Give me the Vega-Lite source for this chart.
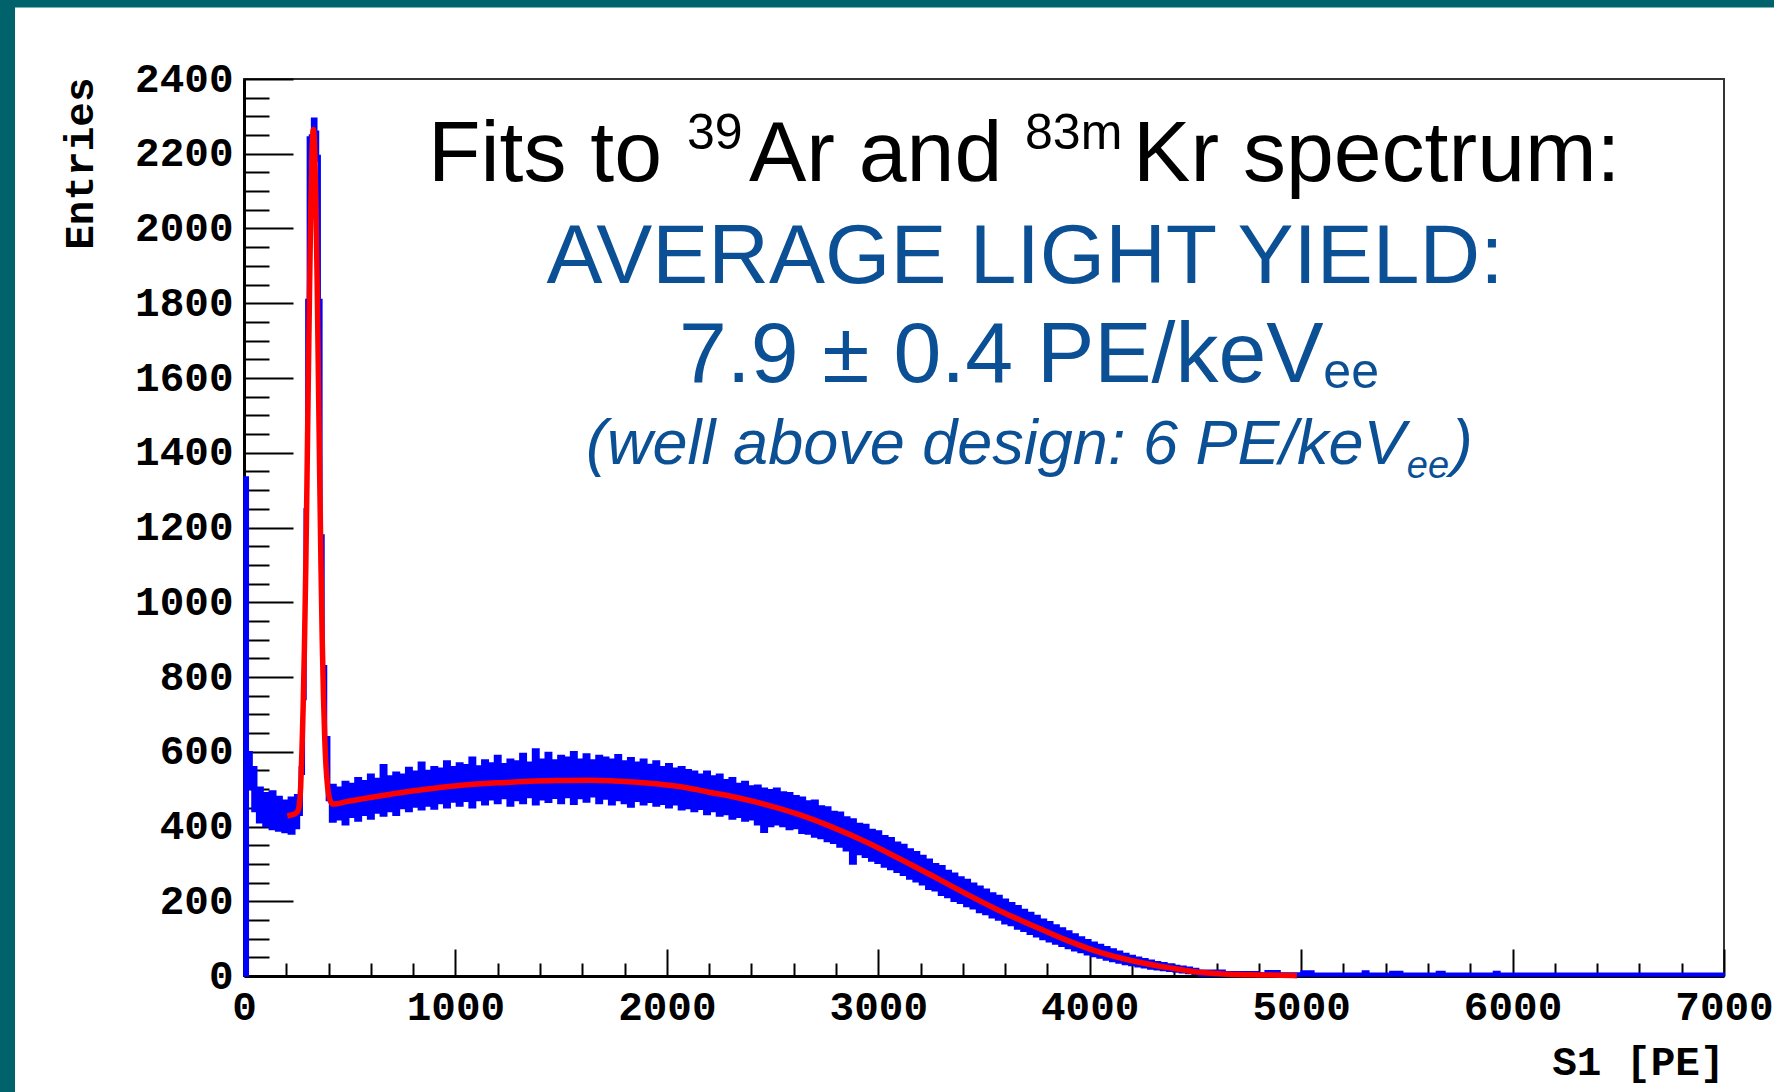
{
"$schema":"https://vega.github.io/schema/vega-lite/v6.json",
"width":1480,"height":897,
"autosize":{"type":"none"},
"padding":{"left":244,"top":79,"right":50,"bottom":116},
"background":"white",
"config":{
 "view":{"stroke":"#333333","strokeWidth":2},
 "axis":{"grid":false,"domainColor":"black","domainWidth":3,"tickColor":"black","tickWidth":2,"labelFont":"Liberation Mono","labelFontWeight":"bold","labelFontSize":41,"labelColor":"black","titleFont":"Liberation Mono","titleFontWeight":"bold","titleFontSize":41,"titleColor":"black","labelFlush":false,"labelOverlap":false,"zindex":1}
},
"datasets":{
 "band":[
  {"s":0,"e":20,"lo":0,"hi":1335},
  {"s":20,"e":38,"lo":500,"hi":600},
  {"s":38,"e":60,"lo":440,"hi":560},
  {"s":60,"e":90,"lo":410,"hi":505},
  {"s":90,"e":120,"lo":400,"hi":490},
  {"s":120,"e":150,"lo":392,"hi":495},
  {"s":150,"e":180,"lo":388,"hi":480},
  {"s":180,"e":210,"lo":384,"hi":470},
  {"s":210,"e":240,"lo":380,"hi":478},
  {"s":240,"e":262,"lo":395,"hi":485},
  {"s":262,"e":275,"lo":430,"hi":560},
  {"s":275,"e":285,"lo":540,"hi":760},
  {"s":285,"e":293,"lo":740,"hi":1250},
  {"s":293,"e":300,"lo":1240,"hi":1810},
  {"s":300,"e":310,"lo":1800,"hi":2245},
  {"s":310,"e":320,"lo":2200,"hi":2250},
  {"s":320,"e":344,"lo":2240,"hi":2295},
  {"s":344,"e":352,"lo":2180,"hi":2260},
  {"s":352,"e":360,"lo":1800,"hi":2195},
  {"s":360,"e":368,"lo":1180,"hi":1810},
  {"s":368,"e":378,"lo":820,"hi":1180},
  {"s":378,"e":390,"lo":630,"hi":830},
  {"s":390,"e":405,"lo":470,"hi":640},
  {"s":405,"e":435,"lo":412,"hi":512},
  {"s":435,"e":465,"lo":418,"hi":505},
  {"s":465,"e":495,"lo":405,"hi":520},
  {"s":495,"e":525,"lo":425,"hi":515},
  {"s":525,"e":555,"lo":415,"hi":530},
  {"s":555,"e":585,"lo":430,"hi":522},
  {"s":585,"e":615,"lo":420,"hi":540},
  {"s":615,"e":645,"lo":436,"hi":528},
  {"s":645,"e":675,"lo":428,"hi":565},
  {"s":675,"e":705,"lo":440,"hi":535},
  {"s":705,"e":735,"lo":430,"hi":545},
  {"s":735,"e":765,"lo":448,"hi":540},
  {"s":765,"e":795,"lo":440,"hi":558},
  {"s":795,"e":825,"lo":452,"hi":548},
  {"s":825,"e":855,"lo":445,"hi":572},
  {"s":855,"e":885,"lo":455,"hi":550},
  {"s":885,"e":915,"lo":447,"hi":560},
  {"s":915,"e":945,"lo":462,"hi":556},
  {"s":945,"e":975,"lo":450,"hi":575},
  {"s":975,"e":1005,"lo":466,"hi":560},
  {"s":1005,"e":1035,"lo":455,"hi":570},
  {"s":1035,"e":1065,"lo":468,"hi":565},
  {"s":1065,"e":1095,"lo":450,"hi":585},
  {"s":1095,"e":1125,"lo":470,"hi":562},
  {"s":1125,"e":1155,"lo":458,"hi":578},
  {"s":1155,"e":1185,"lo":472,"hi":570},
  {"s":1185,"e":1215,"lo":462,"hi":590},
  {"s":1215,"e":1245,"lo":475,"hi":568},
  {"s":1245,"e":1275,"lo":455,"hi":580},
  {"s":1275,"e":1305,"lo":470,"hi":575},
  {"s":1305,"e":1335,"lo":462,"hi":595},
  {"s":1335,"e":1365,"lo":478,"hi":572},
  {"s":1365,"e":1395,"lo":458,"hi":607},
  {"s":1395,"e":1425,"lo":472,"hi":580},
  {"s":1425,"e":1455,"lo":465,"hi":598},
  {"s":1455,"e":1485,"lo":476,"hi":578},
  {"s":1485,"e":1515,"lo":462,"hi":590},
  {"s":1515,"e":1545,"lo":478,"hi":585},
  {"s":1545,"e":1575,"lo":460,"hi":600},
  {"s":1575,"e":1605,"lo":475,"hi":580},
  {"s":1605,"e":1635,"lo":466,"hi":594},
  {"s":1635,"e":1665,"lo":480,"hi":578},
  {"s":1665,"e":1695,"lo":462,"hi":590},
  {"s":1695,"e":1725,"lo":474,"hi":585},
  {"s":1725,"e":1755,"lo":458,"hi":580},
  {"s":1755,"e":1785,"lo":470,"hi":592},
  {"s":1785,"e":1815,"lo":462,"hi":575},
  {"s":1815,"e":1845,"lo":452,"hi":584},
  {"s":1845,"e":1875,"lo":468,"hi":572},
  {"s":1875,"e":1905,"lo":458,"hi":580},
  {"s":1905,"e":1935,"lo":465,"hi":566},
  {"s":1935,"e":1965,"lo":455,"hi":575},
  {"s":1965,"e":1995,"lo":460,"hi":560},
  {"s":1995,"e":2025,"lo":450,"hi":568},
  {"s":2025,"e":2055,"lo":458,"hi":556},
  {"s":2055,"e":2085,"lo":445,"hi":560},
  {"s":2085,"e":2115,"lo":448,"hi":552},
  {"s":2115,"e":2145,"lo":440,"hi":548},
  {"s":2145,"e":2175,"lo":446,"hi":540},
  {"s":2175,"e":2205,"lo":432,"hi":548},
  {"s":2205,"e":2235,"lo":440,"hi":535},
  {"s":2235,"e":2265,"lo":428,"hi":540},
  {"s":2265,"e":2295,"lo":432,"hi":525},
  {"s":2295,"e":2325,"lo":420,"hi":530},
  {"s":2325,"e":2355,"lo":425,"hi":515},
  {"s":2355,"e":2385,"lo":415,"hi":520},
  {"s":2385,"e":2415,"lo":418,"hi":508},
  {"s":2415,"e":2445,"lo":405,"hi":510},
  {"s":2445,"e":2475,"lo":385,"hi":502},
  {"s":2475,"e":2505,"lo":400,"hi":498},
  {"s":2505,"e":2535,"lo":405,"hi":502},
  {"s":2535,"e":2565,"lo":400,"hi":492},
  {"s":2565,"e":2595,"lo":392,"hi":490},
  {"s":2595,"e":2625,"lo":395,"hi":482},
  {"s":2625,"e":2655,"lo":382,"hi":478},
  {"s":2655,"e":2685,"lo":380,"hi":468},
  {"s":2685,"e":2715,"lo":372,"hi":470},
  {"s":2715,"e":2745,"lo":368,"hi":455},
  {"s":2745,"e":2775,"lo":360,"hi":452},
  {"s":2775,"e":2805,"lo":355,"hi":440},
  {"s":2805,"e":2835,"lo":345,"hi":438},
  {"s":2835,"e":2865,"lo":335,"hi":425},
  {"s":2865,"e":2895,"lo":300,"hi":420},
  {"s":2895,"e":2925,"lo":325,"hi":408},
  {"s":2925,"e":2955,"lo":318,"hi":405},
  {"s":2955,"e":2985,"lo":308,"hi":392},
  {"s":2985,"e":3015,"lo":302,"hi":388},
  {"s":3015,"e":3045,"lo":292,"hi":375},
  {"s":3045,"e":3075,"lo":285,"hi":370},
  {"s":3075,"e":3105,"lo":278,"hi":358},
  {"s":3105,"e":3135,"lo":270,"hi":352},
  {"s":3135,"e":3165,"lo":260,"hi":340},
  {"s":3165,"e":3195,"lo":252,"hi":332},
  {"s":3195,"e":3225,"lo":244,"hi":322},
  {"s":3225,"e":3255,"lo":232,"hi":312},
  {"s":3255,"e":3285,"lo":228,"hi":300},
  {"s":3285,"e":3315,"lo":216,"hi":295},
  {"s":3315,"e":3345,"lo":210,"hi":282},
  {"s":3345,"e":3375,"lo":200,"hi":275},
  {"s":3375,"e":3405,"lo":195,"hi":265},
  {"s":3405,"e":3435,"lo":186,"hi":258},
  {"s":3435,"e":3465,"lo":180,"hi":248},
  {"s":3465,"e":3495,"lo":170,"hi":240},
  {"s":3495,"e":3525,"lo":165,"hi":232},
  {"s":3525,"e":3555,"lo":156,"hi":222},
  {"s":3555,"e":3585,"lo":150,"hi":215},
  {"s":3585,"e":3615,"lo":140,"hi":205},
  {"s":3615,"e":3645,"lo":135,"hi":196},
  {"s":3645,"e":3675,"lo":126,"hi":188},
  {"s":3675,"e":3705,"lo":120,"hi":178},
  {"s":3705,"e":3735,"lo":112,"hi":170},
  {"s":3735,"e":3765,"lo":105,"hi":162},
  {"s":3765,"e":3795,"lo":98,"hi":152},
  {"s":3795,"e":3825,"lo":92,"hi":145},
  {"s":3825,"e":3855,"lo":86,"hi":136},
  {"s":3855,"e":3885,"lo":80,"hi":128},
  {"s":3885,"e":3915,"lo":74,"hi":120},
  {"s":3915,"e":3945,"lo":68,"hi":112},
  {"s":3945,"e":3975,"lo":63,"hi":104},
  {"s":3975,"e":4005,"lo":57,"hi":97},
  {"s":4005,"e":4035,"lo":52,"hi":90},
  {"s":4035,"e":4065,"lo":48,"hi":84},
  {"s":4065,"e":4095,"lo":43,"hi":78},
  {"s":4095,"e":4125,"lo":39,"hi":72},
  {"s":4125,"e":4155,"lo":35,"hi":66},
  {"s":4155,"e":4185,"lo":31,"hi":60},
  {"s":4185,"e":4215,"lo":28,"hi":55},
  {"s":4215,"e":4245,"lo":25,"hi":50},
  {"s":4245,"e":4275,"lo":22,"hi":46},
  {"s":4275,"e":4305,"lo":19,"hi":42},
  {"s":4305,"e":4335,"lo":17,"hi":38},
  {"s":4335,"e":4365,"lo":15,"hi":35},
  {"s":4365,"e":4395,"lo":13,"hi":32},
  {"s":4395,"e":4425,"lo":11,"hi":28},
  {"s":4425,"e":4455,"lo":9,"hi":26},
  {"s":4455,"e":4485,"lo":7,"hi":23},
  {"s":4485,"e":4515,"lo":5,"hi":20},
  {"s":4515,"e":4640,"lo":0,"hi":15},
  {"s":4640,"e":4800,"lo":0,"hi":11},
  {"s":4800,"e":4830,"lo":0,"hi":8},
  {"s":4830,"e":4900,"lo":0,"hi":14},
  {"s":4900,"e":5000,"lo":0,"hi":8},
  {"s":5000,"e":5060,"lo":0,"hi":13},
  {"s":5060,"e":5290,"lo":0,"hi":7},
  {"s":5290,"e":5320,"lo":0,"hi":13},
  {"s":5320,"e":5420,"lo":0,"hi":7},
  {"s":5420,"e":5480,"lo":0,"hi":12},
  {"s":5480,"e":5640,"lo":0,"hi":7},
  {"s":5640,"e":5680,"lo":0,"hi":12},
  {"s":5680,"e":5910,"lo":0,"hi":7},
  {"s":5910,"e":5940,"lo":0,"hi":12},
  {"s":5940,"e":7000,"lo":0,"hi":7}
 ],
 "fit":[
  {"x":205,"y":428},{"x":225,"y":431},{"x":245,"y":436},{"x":255,"y":442},{"x":262,"y":460},{"x":268,"y":505},{"x":274,"y":600},{"x":280,"y":725},{"x":286,"y":885},{"x":292,"y":1085},{"x":298,"y":1328},{"x":304,"y":1590},{"x":310,"y":1835},{"x":316,"y":2060},{"x":322,"y":2210},{"x":328,"y":2265},{"x":334,"y":2218},{"x":340,"y":2075},{"x":346,"y":1858},{"x":352,"y":1600},{"x":358,"y":1340},{"x":364,"y":1100},{"x":370,"y":900},{"x":376,"y":745},{"x":382,"y":633},{"x":388,"y":560},{"x":396,"y":503},{"x":406,"y":472},{"x":420,"y":460},{"x":440,"y":461},{"x":480,"y":466},{"x":550,"y":473},{"x":612,"y":479},{"x":700,"y":487},{"x":770,"y":493},{"x":850,"y":499},{"x":900,"y":502.5},{"x":1006,"y":509},{"x":1100,"y":513.5},{"x":1243,"y":518},{"x":1350,"y":521},{"x":1479,"y":523},{"x":1637,"y":524},{"x":1750,"y":522},{"x":1873,"y":518},{"x":2031,"y":509},{"x":2100,"y":503},{"x":2189,"y":493},{"x":2330,"y":477.5},{"x":2472,"y":458},{"x":2630,"y":431},{"x":2788,"y":397},{"x":2945,"y":358},{"x":3103,"y":313},{"x":3260,"y":267},{"x":3418,"y":219},{"x":3576,"y":174},{"x":3734,"y":134},{"x":3890,"y":96},{"x":4049,"y":63},{"x":4206,"y":40},{"x":4364,"y":23},{"x":4443,"y":16},{"x":4522,"y":10},{"x":4600,"y":7},{"x":4700,"y":4},{"x":4800,"y":3},{"x":4900,"y":2},{"x":4980,"y":1}
 ]
},
"layer":[
 {"data":{"values":[{}]},"mark":{"type":"rect","color":"#00626a"},
  "encoding":{"x":{"datum":-1154,"type":"quantitative","scale":{"domain":[0,7000],"nice":false,"zero":false},"axis":null},"x2":{"datum":7240},
   "y":{"datum":2612,"type":"quantitative","scale":{"domain":[0,2400],"nice":false},"axis":null},"y2":{"datum":2591.5}}},
 {"data":{"values":[{}]},"mark":{"type":"rect","color":"#00626a"},
  "encoding":{"x":{"datum":-1160,"type":"quantitative","scale":{"domain":[0,7000],"nice":false,"zero":false},"axis":null},"x2":{"datum":-1083},
   "y":{"datum":2612,"type":"quantitative","scale":{"domain":[0,2400],"nice":false},"axis":null},"y2":{"datum":-320}}},
 {"data":{"name":"band"},"mark":{"type":"rect","color":"#0000ff","stroke":"#0000ff","strokeWidth":1.6},
  "encoding":{
   "x":{"field":"s","type":"quantitative","scale":{"domain":[0,7000],"nice":false,"zero":false},
    "axis":{"orient":"bottom","values":[0,1000,2000,3000,4000,5000,6000,7000],"format":"d","tickSize":-27,"labelPadding":38,"title":"S1 [PE]","titleAlign":"right","titleBaseline":"alphabetic","titleX":1480,"titleY":98,"titleAngle":0}},
   "x2":{"field":"e"},
   "y":{"field":"lo","type":"quantitative","scale":{"domain":[0,2400],"nice":false},
    "axis":{"orient":"left","values":[0,200,400,600,800,1000,1200,1400,1600,1800,2000,2200,2400],"format":"d","tickSize":-49,"labelPadding":60,"title":"Entries","titleAngle":270,"titleAlign":"right","titleBaseline":"middle","titleX":-164,"titleY":-2}},
   "y2":{"field":"hi"}}},
 {"data":{"name":"fit"},"mark":{"type":"line","color":"#ff0000","strokeWidth":5.5,"interpolate":"monotone"},
  "encoding":{
   "x":{"field":"x","type":"quantitative","scale":{"domain":[0,7000],"nice":false,"zero":false},
    "axis":{"orient":"bottom","values":[200,400,600,800,1200,1400,1600,1800,2200,2400,2600,2800,3200,3400,3600,3800,4200,4400,4600,4800,5200,5400,5600,5800,6200,6400,6600,6800],"tickSize":-13,"labels":false,"domain":false,"title":null}},
   "y":{"field":"y","type":"quantitative","scale":{"domain":[0,2400],"nice":false},
    "axis":{"orient":"left","values":[50,100,150,250,300,350,450,500,550,650,700,750,850,900,950,1050,1100,1150,1250,1300,1350,1450,1500,1550,1650,1700,1750,1850,1900,1950,2050,2100,2150,2250,2300,2350],"tickSize":-25,"labels":false,"domain":false,"title":null}}}},
 {"data":{"values":[{"t":"Fits to"}]},"mark":{"type":"text","align":"left","baseline":"alphabetic","font":"Liberation Sans","fontSize":86,"color":"black"},
  "encoding":{"text":{"field":"t"},"x":{"datum":870,"type":"quantitative","scale":{"domain":[0,7000],"nice":false,"zero":false},"axis":null},"y":{"datum":2127,"type":"quantitative","scale":{"domain":[0,2400],"nice":false},"axis":null}}},
 {"data":{"values":[{"t":"39"}]},"mark":{"type":"text","align":"left","baseline":"alphabetic","font":"Liberation Sans","fontSize":50,"color":"black"},
  "encoding":{"text":{"field":"t"},"x":{"datum":2095,"type":"quantitative","scale":{"domain":[0,7000],"nice":false,"zero":false},"axis":null},"y":{"datum":2213,"type":"quantitative","scale":{"domain":[0,2400],"nice":false},"axis":null}}},
 {"data":{"values":[{"t":"Ar and"}]},"mark":{"type":"text","align":"left","baseline":"alphabetic","font":"Liberation Sans","fontSize":86,"color":"black"},
  "encoding":{"text":{"field":"t"},"x":{"datum":2388,"type":"quantitative","scale":{"domain":[0,7000],"nice":false,"zero":false},"axis":null},"y":{"datum":2127,"type":"quantitative","scale":{"domain":[0,2400],"nice":false},"axis":null}}},
 {"data":{"values":[{"t":"83m"}]},"mark":{"type":"text","align":"left","baseline":"alphabetic","font":"Liberation Sans","fontSize":50,"color":"black"},
  "encoding":{"text":{"field":"t"},"x":{"datum":3694,"type":"quantitative","scale":{"domain":[0,7000],"nice":false,"zero":false},"axis":null},"y":{"datum":2213,"type":"quantitative","scale":{"domain":[0,2400],"nice":false},"axis":null}}},
 {"data":{"values":[{"t":"Kr spectrum:"}]},"mark":{"type":"text","align":"left","baseline":"alphabetic","font":"Liberation Sans","fontSize":86,"color":"black"},
  "encoding":{"text":{"field":"t"},"x":{"datum":4205,"type":"quantitative","scale":{"domain":[0,7000],"nice":false,"zero":false},"axis":null},"y":{"datum":2127,"type":"quantitative","scale":{"domain":[0,2400],"nice":false},"axis":null}}},
 {"data":{"values":[{"t":"AVERAGE LIGHT YIELD:"}]},"mark":{"type":"text","align":"center","baseline":"alphabetic","font":"Liberation Sans","fontSize":84,"color":"#0b4f95"},
  "encoding":{"text":{"field":"t"},"x":{"datum":3694,"type":"quantitative","scale":{"domain":[0,7000],"nice":false,"zero":false},"axis":null},"y":{"datum":1854,"type":"quantitative","scale":{"domain":[0,2400],"nice":false},"axis":null}}},
 {"data":{"values":[{"t":"7.9 ± 0.4 PE/keV"}]},"mark":{"type":"text","align":"left","baseline":"alphabetic","font":"Liberation Sans","fontSize":86,"color":"#0b4f95"},
  "encoding":{"text":{"field":"t"},"x":{"datum":2057,"type":"quantitative","scale":{"domain":[0,7000],"nice":false,"zero":false},"axis":null},"y":{"datum":1589,"type":"quantitative","scale":{"domain":[0,2400],"nice":false},"axis":null}}},
 {"data":{"values":[{"t":"ee"}]},"mark":{"type":"text","align":"left","baseline":"alphabetic","font":"Liberation Sans","fontSize":50,"color":"#0b4f95"},
  "encoding":{"text":{"field":"t"},"x":{"datum":5105,"type":"quantitative","scale":{"domain":[0,7000],"nice":false,"zero":false},"axis":null},"y":{"datum":1573,"type":"quantitative","scale":{"domain":[0,2400],"nice":false},"axis":null}}},
 {"data":{"values":[{"t":"(well above design: 6 PE/keV"}]},"mark":{"type":"text","align":"left","baseline":"alphabetic","font":"Liberation Sans","fontSize":63,"fontStyle":"italic","color":"#0b4f95"},
  "encoding":{"text":{"field":"t"},"x":{"datum":1618,"type":"quantitative","scale":{"domain":[0,7000],"nice":false,"zero":false},"axis":null},"y":{"datum":1370,"type":"quantitative","scale":{"domain":[0,2400],"nice":false},"axis":null}}},
 {"data":{"values":[{"t":"ee"}]},"mark":{"type":"text","align":"left","baseline":"alphabetic","font":"Liberation Sans","fontSize":38,"fontStyle":"italic","color":"#0b4f95"},
  "encoding":{"text":{"field":"t"},"x":{"datum":5500,"type":"quantitative","scale":{"domain":[0,7000],"nice":false,"zero":false},"axis":null},"y":{"datum":1332,"type":"quantitative","scale":{"domain":[0,2400],"nice":false},"axis":null}}},
 {"data":{"values":[{"t":")"}]},"mark":{"type":"text","align":"left","baseline":"alphabetic","font":"Liberation Sans","fontSize":63,"fontStyle":"italic","color":"#0b4f95"},
  "encoding":{"text":{"field":"t"},"x":{"datum":5712,"type":"quantitative","scale":{"domain":[0,7000],"nice":false,"zero":false},"axis":null},"y":{"datum":1370,"type":"quantitative","scale":{"domain":[0,2400],"nice":false},"axis":null}}}
],
"resolve":{"axis":{"x":"independent","y":"independent"}}
}
